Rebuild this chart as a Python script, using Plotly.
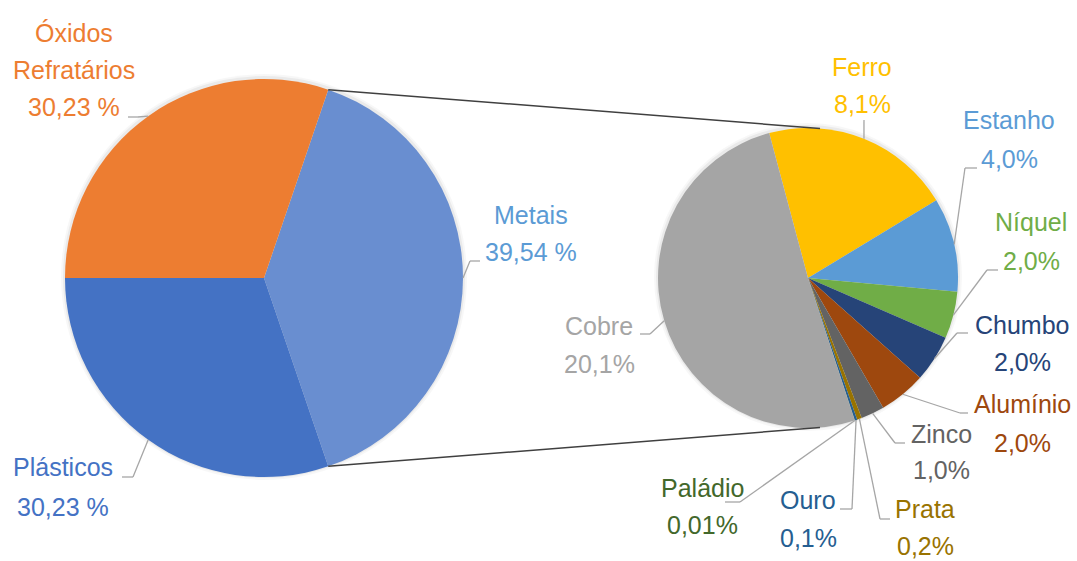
import math
import plotly.graph_objects as go

W, H = 1077, 561

# Main composition
main_labels = ["Metais", "Plásticos", "Óxidos Refratários"]
main_values = [39.54, 30.23, 30.23]
main_colors = ["#698ED0", "#4472C4", "#ED7D31"]
main_text_colors = ["#5B9BD5", "#4472C4", "#ED7D31"]

# Breakdown of the metal fraction
metal_labels = ["Ferro", "Estanho", "Níquel", "Chumbo", "Alumínio",
                "Zinco", "Prata", "Ouro", "Paládio", "Cobre"]
metal_values = [8.1, 4.0, 2.0, 2.0, 2.0, 1.0, 0.2, 0.1, 0.01, 20.1]
metal_colors = ["#FFC000", "#5B9BD5", "#70AD47", "#264478", "#9E480E",
                "#636363", "#997300", "#255E91", "#43682B", "#A5A5A5"]

FONT = "Liberation Sans"
FS = 25
LEADER = "#A6A6A6"

# pie geometry in pixels
MAIN_C, MAIN_R = (264, 278), 199
SUB_C, SUB_R = (808, 278), 150
SUB_ROT = -15

main_rot = 90 - 360 * main_values[0] / sum(main_values) / 2


def px(x):
    return x / W


def py(y):
    return 1 - y / H


def domain(c, r):
    return dict(x=[px(c[0] - r), px(c[0] + r)], y=[py(c[1] + r), py(c[1] - r)])


def edge(c, r, theta):
    t = math.radians(theta)
    return (c[0] + r * math.sin(t), c[1] - r * math.cos(t))


def mid_angles(values, rot):
    tot = sum(values)
    out, acc = [], 0.0
    for v in values:
        out.append(rot + 360 * (acc + v / 2) / tot)
        acc += v
    return out


def fmt_main(v):
    return f"{v:.2f}".replace(".", ",") + " %"


def fmt_sub(v):
    d = 2 if v < 0.05 else 1
    return f"{v:.{d}f}".replace(".", ",") + "%"


fig = go.Figure()

# soft halo under each pie
shapes = []
for c, r in [(MAIN_C, MAIN_R), (SUB_C, SUB_R)]:
    for extra, a in [(4, 0.03), (2, 0.05)]:
        shapes.append(dict(type="circle", xref="paper", yref="paper",
                           x0=px(c[0] - r - extra), x1=px(c[0] + r + extra),
                           y0=py(c[1] + r + extra - 1), y1=py(c[1] - r - extra - 1),
                           fillcolor=f"rgba(0,0,0,{a})", line=dict(width=0),
                           layer="below"))

fig.add_trace(go.Pie(
    labels=main_labels, values=main_values, sort=False, direction="clockwise",
    rotation=main_rot, marker=dict(colors=main_colors, line=dict(width=0)),
    textinfo="none", hoverinfo="label+percent", domain=domain(MAIN_C, MAIN_R),
    showlegend=False,
))
fig.add_trace(go.Pie(
    labels=metal_labels, values=metal_values, sort=False, direction="clockwise",
    rotation=SUB_ROT, marker=dict(colors=metal_colors, line=dict(width=0)),
    textinfo="none", hoverinfo="label+value", domain=domain(SUB_C, SUB_R),
    showlegend=False,
))

# connector lines between the metal slice and the breakdown pie
tot = sum(main_values)
a0 = main_rot
a1 = main_rot + 360 * main_values[0] / tot
dx = 12
dy = math.sqrt(SUB_R ** 2 - dx ** 2)
for a, target in [(a0, (SUB_C[0] + dx, SUB_C[1] - dy)), (a1, (SUB_C[0] + dx, SUB_C[1] + dy))]:
    p = edge(MAIN_C, MAIN_R, a)
    shapes.append(dict(type="line", xref="paper", yref="paper",
                       x0=px(p[0]), y0=py(p[1]), x1=px(target[0]), y1=py(target[1]),
                       line=dict(color="#404040", width=1.5)))

# label placement: text centre x, line centres y, leader elbow points
main_layout = {
    "Metais": (531, [214, 251], [(480, 261), (470, 261)]),
    "Plásticos": (63, [466, 506], [(122, 477), (133, 477)]),
    "Óxidos Refratários": (74, [32, 69, 106], [(128, 117), (138, 117)]),
}
sub_layout = {
    "Ferro": (862, [66, 103], [(864, 120)]),
    "Estanho": (1009, [119, 158], [(977, 168), (965, 168)]),
    "Níquel": (1031, [221, 260], [(998, 270), (987, 270)]),
    "Chumbo": (1022, [324, 361], [(968, 333), (957, 333)]),
    "Alumínio": (1022, [403, 442], [(968, 413), (960, 413)]),
    "Zinco": (941, [433, 469], [(905, 443), (895, 443)]),
    "Prata": (925, [508, 545], [(890, 519), (880, 519)]),
    "Ouro": (808, [499, 537], [(840, 509), (852, 509)]),
    "Paládio": (702, [487, 524], [(725, 502), (740, 502)]),
    "Cobre": (599, [325, 363], [(640, 334), (650, 334)]),
}

annotations = []


def add_label(lines, x, ys, color):
    for t, y in zip(lines, ys):
        annotations.append(dict(text=t, x=px(x), y=py(y + 1), xref="paper", yref="paper",
                                xanchor="center", yanchor="middle", showarrow=False,
                                borderpad=0,
                                font=dict(family=FONT, size=FS, color=color)))


def add_leader(pts, end):
    path = list(pts) + [end]
    for (x0, y0), (x1, y1) in zip(path[:-1], path[1:]):
        shapes.append(dict(type="line", xref="paper", yref="paper",
                           x0=px(x0), y0=py(y0), x1=px(x1), y1=py(y1),
                           line=dict(color=LEADER, width=1.3)))


for lab, v, col, ang in zip(main_labels, main_values, main_text_colors,
                            mid_angles(main_values, main_rot)):
    x, ys, elbow = main_layout[lab]
    add_label(lab.split(" ") + [fmt_main(v)], x, ys, col)
    add_leader(elbow, edge(MAIN_C, MAIN_R, ang))

for lab, v, col, ang in zip(metal_labels, metal_values, metal_colors,
                            mid_angles(metal_values, SUB_ROT)):
    x, ys, elbow = sub_layout[lab]
    add_label([lab, fmt_sub(v)], x, ys, col)
    add_leader(elbow, edge(SUB_C, SUB_R, ang))

fig.update_layout(
    width=W, height=H, margin=dict(l=0, r=0, t=0, b=0),
    paper_bgcolor="white", plot_bgcolor="white",
    shapes=shapes, annotations=annotations,
    font=dict(family=FONT),
)

fig.write_html("out.html")
